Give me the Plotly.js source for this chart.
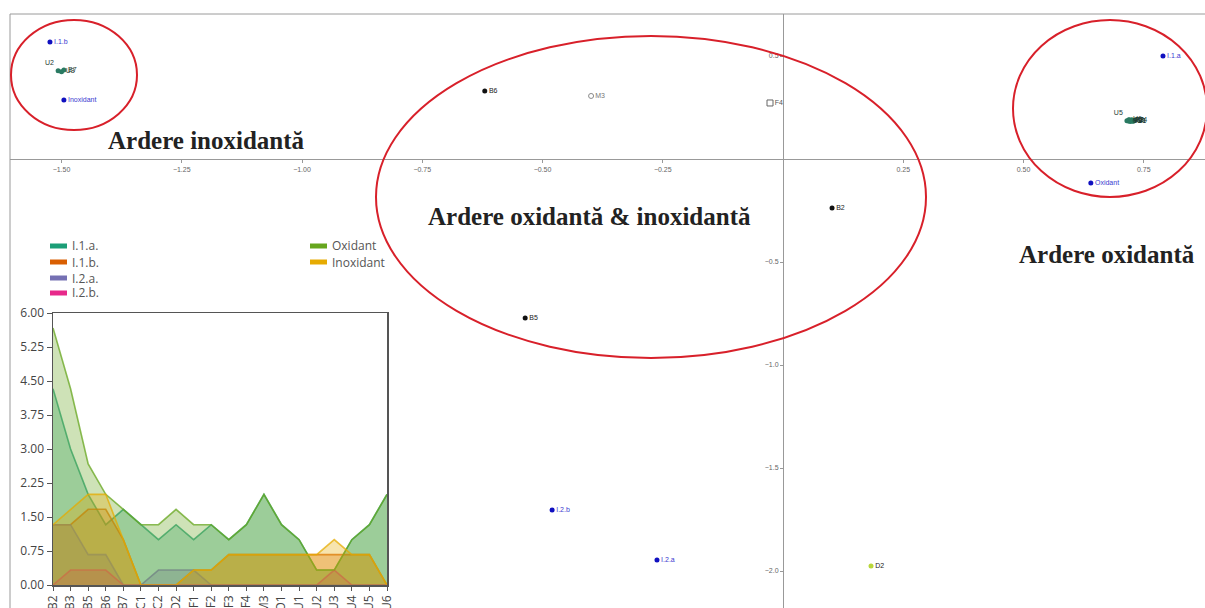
<!DOCTYPE html>
<html><head><meta charset="utf-8">
<script src="https://cdn.plot.ly/plotly-3.0.1.min.js"></script>
<style>body{margin:0;background:#fff}#chart{width:1205px;height:608px}</style>
</head><body><div id="chart"></div>
<script>
// ---- Biplot: variables (blue points)
const varNames = ['I.1.a','I.1.b','I.2.a','I.2.b','Oxidant','Inoxidant'];
const varX = [0.790, -1.524, -0.262, -0.480, 0.640, -1.495];
const varY = [0.500, 0.568, -1.947, -1.704, -0.117, 0.286];

// ---- Biplot: individually labelled samples (black)
const sampNames = ['B6','B2','B5'];
const sampX = [-0.620, 0.102, -0.536];
const sampY = [0.330, -0.238, -0.772];

// open markers
const openCircNames = ['M3']; const openCircX = [-0.399]; const openCircY = [0.306];
const openSqNames = ['F4']; const openSqX = [-0.027]; const openSqY = [0.272];
const d2Names = ['D2']; const d2X = [0.183]; const d2Y = [-1.976];

// clusters
const leftClNames = ['U2','U3','B7'];
const leftClX = [-1.507, -1.500, -1.495];
const leftClY = [0.428, 0.424, 0.432];
const rightClNames = ['U5','C1','C2','F1','F2','F3','O1','U1','U4','U6'];
const rightClX = [0.715, 0.718, 0.720, 0.722, 0.724, 0.725, 0.727, 0.728, 0.730, 0.719];
const rightClY = [0.186, 0.184, 0.189, 0.182, 0.187, 0.190, 0.185, 0.183, 0.188, 0.191];

// ---- Inset area chart
const cats = ['B2','B3','B5','B6','B7','C1','C2','D2','F1','F2','F3','F4','M3','O1','U1','U2','U3','U4','U5','U6'];
const seriesNames = ['I.1.a.','I.1.b.','I.2.a.','I.2.b.','Oxidant','Inoxidant'];
const I1a  = [4.33,3.00,2.00,1.33,1.67,1.33,1.00,1.33,1.00,1.33,1.00,1.33,2.00,1.33,1.00,0.33,0.33,1.00,1.33,2.00];
const I1b  = [1.33,1.33,1.67,1.67,1.00,0,0,0,0.33,0.33,0.67,0.67,0.67,0.67,0.67,0.67,0.67,0.67,0.67,0];
const I2a  = [1.33,1.33,0.67,0.67,0,0,0.33,0.33,0.33,0,0,0,0,0,0,0,0,0,0,0];
const I2b  = [0,0.33,0.33,0.33,0,0,0,0,0,0,0,0,0,0,0,0,0.33,0,0,0];
const Oxid = [5.67,4.33,2.67,2.00,1.67,1.33,1.33,1.67,1.33,1.33,1.00,1.33,2.00,1.33,1.00,0.33,0.33,1.00,1.33,2.00];
const Inox = [1.33,1.67,2.00,2.00,1.00,0,0,0,0.33,0.33,0.67,0.67,0.67,0.67,0.67,0.67,1.00,0.67,0.67,0];
const yTicks = [0,0.75,1.5,2.25,3,3.75,4.5,5.25,6];

const regionLabels = ['Ardere inoxidantă','Ardere oxidantă & inoxidantă','Ardere oxidantă'];

const W = 1205, H = 608;
const px = x => x / W;
const py = y => 1 - y / H;

const rgb = [[27,158,119],[217,95,2],[117,112,179],[231,41,138],[102,166,30],[230,171,2]];
const seriesVals = [I1a, I1b, I2a, I2b, Oxid, Inox];

const traces = [];
seriesVals.forEach((vals, i) => {
  const c = rgb[i];
  traces.push({
    type: 'scatter', mode: 'lines', x: cats, y: vals, xaxis: 'x2', yaxis: 'y2',
    fill: 'tozeroy', fillcolor: `rgba(${c[0]},${c[1]},${c[2]},0.32)`,
    line: {color: `rgba(${c[0]},${c[1]},${c[2]},0.75)`, width: 1.6},
    name: seriesNames[i], showlegend: false, hoverinfo: 'skip'
  });
});

const lblFont = (col) => ({family: 'Liberation Sans, Arial', size: 7, color: col});
traces.push({type:'scatter', mode:'markers+text', x: varX, y: varY, text: varNames,
  textposition: 'middle right', textfont: lblFont('#3a3ad0'),
  marker: {color: '#1010c0', size: 5}, showlegend: false, cliponaxis: false});
traces.push({type:'scatter', mode:'markers+text', x: sampX, y: sampY, text: sampNames,
  textposition: 'middle right', textfont: lblFont('#222'),
  marker: {color: '#111', size: 5}, showlegend: false});
traces.push({type:'scatter', mode:'markers+text', x: openCircX, y: openCircY, text: openCircNames,
  textposition: 'middle right', textfont: lblFont('#777'),
  marker: {color: '#888', size: 5, symbol: 'circle-open'}, showlegend: false});
traces.push({type:'scatter', mode:'markers+text', x: openSqX, y: openSqY, text: openSqNames,
  textposition: 'middle right', textfont: lblFont('#555'),
  marker: {color: '#666', size: 6, symbol: 'square-open'}, showlegend: false});
traces.push({type:'scatter', mode:'markers+text', x: d2X, y: d2Y, text: d2Names,
  textposition: 'middle right', textfont: lblFont('#222'),
  marker: {color: '#b8d63a', size: 5}, showlegend: false});
traces.push({type:'scatter', mode:'markers+text', x: leftClX, y: leftClY, text: leftClNames,
  textposition: leftClNames.map((n,i)=> i===0 ? 'top left' : 'middle right'), textfont: lblFont('#1e3a32'),
  marker: {color: '#2a7a62', size: 5}, showlegend: false});
traces.push({type:'scatter', mode:'markers+text', x: rightClX, y: rightClY, text: rightClNames,
  textposition: rightClNames.map((n,i)=> i===0 ? 'top left' : 'middle right'), textfont: lblFont('#1e3a32'),
  marker: {color: '#2a7a62', size: 5}, showlegend: false});

const shapes = [
  // main frame
  {type:'rect', xref:'paper', yref:'paper', x0: px(10), x1: px(1206), y0: py(609), y1: py(14),
   line:{color:'#9a9a9a', width:1}, layer:'below'},
  // red ellipses
  {type:'circle', xref:'paper', yref:'paper', x0: px(11), x1: px(137), y0: py(130), y1: py(20),
   line:{color:'#d8202a', width:2}},
  {type:'circle', xref:'paper', yref:'paper', x0: px(376), x1: px(926), y0: py(358), y1: py(36),
   line:{color:'#d8202a', width:2}},
  {type:'circle', xref:'paper', yref:'paper', x0: px(1013), x1: px(1207), y0: py(197), y1: py(20),
   line:{color:'#d8202a', width:2}}
];
// manual legend
const legPos = [[50,246],[50,262],[50,278],[50,293],[310,246],[310,262]];
const annotations = [];
seriesNames.forEach((n,i) => {
  const c = rgb[i];
  const [lx, ly] = legPos[i];
  shapes.push({type:'line', xref:'paper', yref:'paper', x0: px(lx), x1: px(lx+17), y0: py(ly), y1: py(ly),
    line:{color:`rgb(${c[0]},${c[1]},${c[2]})`, width:5}});
  annotations.push({xref:'paper', yref:'paper', x: px(lx+20), y: py(ly), text: n, showarrow:false,
    xanchor:'left', yanchor:'middle', font:{family:'Open Sans, Noto Sans', size:12, color:'#555'}});
});
const regPos = [[206,140],[589,216],[1107,254]];
regionLabels.forEach((t,i) => {
  annotations.push({xref:'paper', yref:'paper', x: px(regPos[i][0]), y: py(regPos[i][1]), text: '<b>'+t+'</b>',
    showarrow:false, xanchor:'center', yanchor:'middle',
    font:{family:'Liberation Serif, Times New Roman, serif', size:25, color:'#222'}});
});

const layout = {
  width: W, height: H, margin: {l:0, r:0, t:0, b:0},
  paper_bgcolor: '#fff', plot_bgcolor: 'rgba(0,0,0,0)',
  showlegend: false,
  xaxis: {domain:[px(10), 1], range:[(10-783)/481, (1205-783)/481], anchor:'free', position: (H-159)/H,
    showline:true, linecolor:'#999', linewidth:1.3, ticks:'outside', ticklen:3, tickcolor:'#999',
    tickvals:[-1.5,-1.25,-1,-0.75,-0.5,-0.25,0.25,0.5,0.75], tickformat:'.2f',
    tickfont:{family:'Liberation Sans, Arial', size:7, color:'#666'}, showgrid:false, zeroline:false},
  yaxis: {domain:[0, py(14)], range:[(159-608)/206, (159-14)/206], anchor:'free', position: 783/W,
    showline:true, linecolor:'#999', linewidth:1.3, ticks:'outside', ticklen:3, tickcolor:'#999',
    tickvals:[0.5,-0.5,-1,-1.5,-2], tickformat:'.1f',
    tickfont:{family:'Liberation Sans, Arial', size:7, color:'#666'}, showgrid:false, zeroline:false},
  xaxis2: {domain:[px(53), px(387)], anchor:'y2', type:'category', range:[0,19],
    showline:true, mirror:true, linecolor:'#555', linewidth:1.5, ticks:'outside', ticklen:4, tickcolor:'#555',
    tickangle:-90, tickfont:{family:'Open Sans, Noto Sans', size:12, color:'#444'}, showgrid:false, zeroline:false},
  yaxis2: {domain:[py(585), py(313)], anchor:'x2', range:[0,6],
    showline:true, mirror:true, linecolor:'#555', linewidth:1.5, ticks:'outside', ticklen:5, tickcolor:'#555',
    tickvals: yTicks, tickformat:'.2f', tickfont:{family:'Open Sans, Noto Sans', size:12, color:'#444'},
    showgrid:false, zeroline:false},
  shapes, annotations
};
Plotly.newPlot('chart', traces, layout, {staticPlot:true});
</script></body></html>
